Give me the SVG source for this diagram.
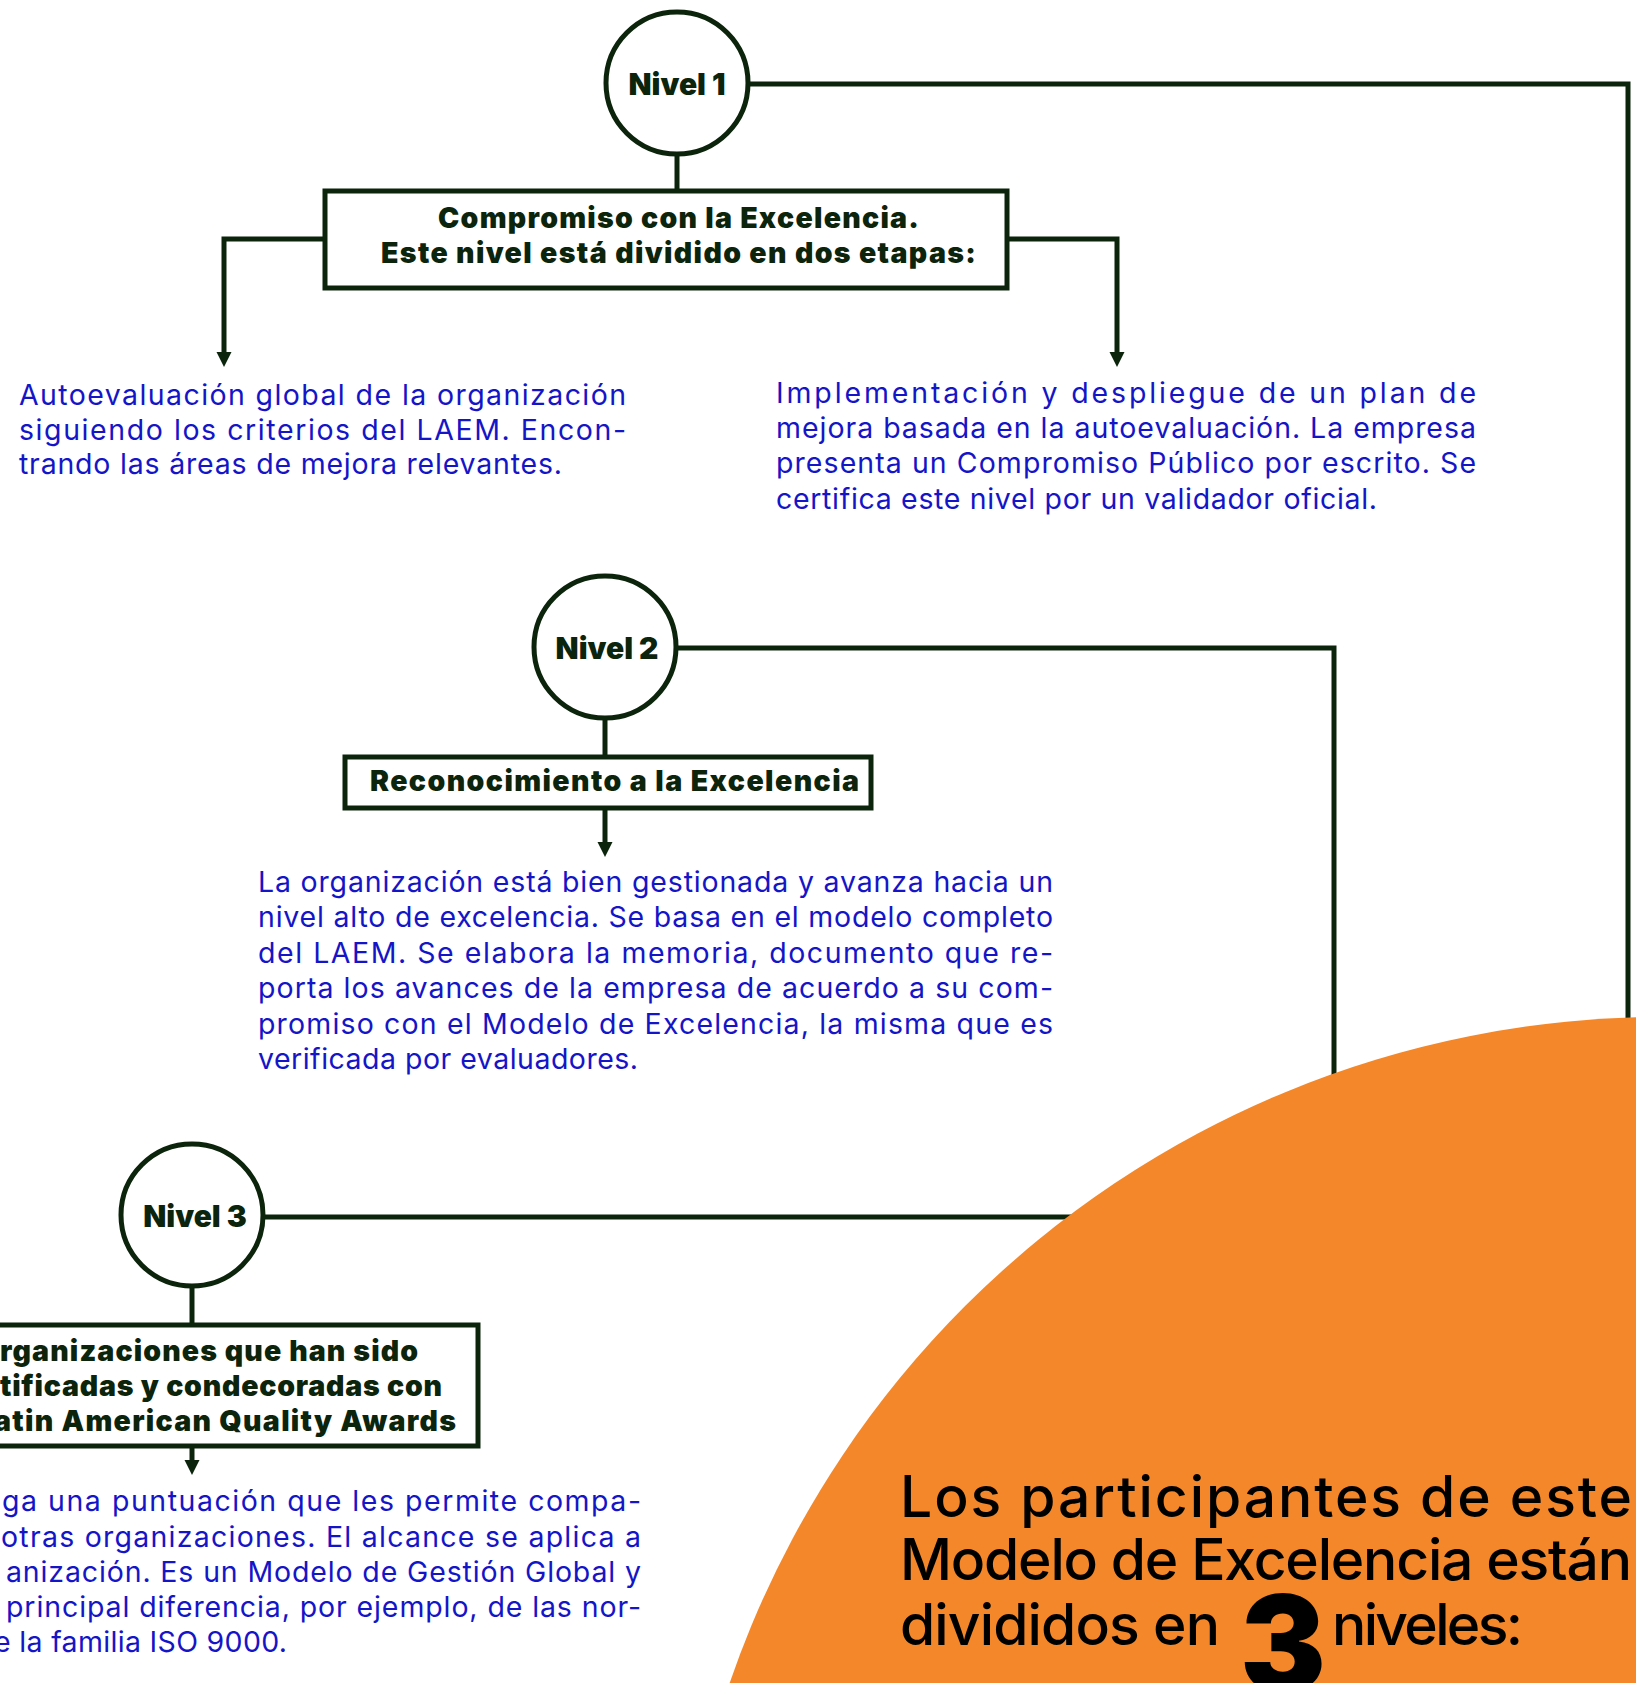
<svg xmlns="http://www.w3.org/2000/svg" width="1636" height="1683" viewBox="0 0 1636 1683">
<style>
.ln{fill:none;stroke:#0b240b;stroke-width:5}
.nd{fill:#fff;stroke:#0b240b;stroke-width:5}
.lvl{font-family:Inter,"Liberation Sans",sans-serif;font-weight:900;font-size:30px;fill:#0b240b;text-anchor:middle}
.bx{font-family:Inter,"Liberation Sans",sans-serif;font-weight:900;font-size:28.5px;fill:#0b240b}
.body{font-family:Inter,"Liberation Sans",sans-serif;font-weight:400;font-size:28.5px;fill:#1515c8}
.big{font-family:Inter,"Liberation Sans",sans-serif;font-weight:500;font-size:57px;fill:#000}
</style>
<defs>
<marker id="ah" viewBox="0 0 10 10" refX="0" refY="5" markerWidth="15" markerHeight="16" markerUnits="userSpaceOnUse" orient="auto">
<path d="M0,0 L10,5 L0,10 z" fill="#0b240b"/>
</marker>
</defs>
<rect x="0" y="0" width="1636" height="1683" fill="#fff"/>
<g id="connectors">
<path class="ln" d="M677,156 V191"/>
<path class="ln" d="M325,239 H224 V352" marker-end="url(#ah)"/>
<path class="ln" d="M1007,239 H1117 V352" marker-end="url(#ah)"/>
<path class="ln" d="M750,84 H1628 V1060"/>
<path class="ln" d="M605,720 V757"/>
<path class="ln" d="M605,808 V842" marker-end="url(#ah)"/>
<path class="ln" d="M678,648 H1334 V1120"/>
<path class="ln" d="M192,1288 V1325"/>
<path class="ln" d="M192,1446 V1460" marker-end="url(#ah)"/>
<path class="ln" d="M265,1217 H1150"/>
</g>
<g id="nivel1">
<circle class="nd" cx="677" cy="83" r="71"/>
<text class="lvl" x="677" y="95">Nivel 1</text>
</g>
<g id="box1">
<rect class="nd" x="325" y="191" width="682" height="97"/>
<text class="bx" x="438" y="228" textLength="481">Compromiso con la Excelencia.</text>
<text class="bx" x="381" y="263" textLength="595">Este nivel está dividido en dos etapas:</text>
</g>
<g id="etapa1">
<text class="body" x="19" y="405" textLength="607">Autoevaluación global de la organización</text>
<text class="body" x="19" y="440" textLength="607">siguiendo los criterios del LAEM. Encon-</text>
<text class="body" x="19" y="474" textLength="543">trando las áreas de mejora relevantes.</text>
</g>
<g id="etapa2">
<text class="body" x="776" y="403" textLength="700">Implementación y despliegue de un plan de</text>
<text class="body" x="776" y="438" textLength="700">mejora basada en la autoevaluación. La empresa</text>
<text class="body" x="776" y="473" textLength="700">presenta un Compromiso Público por escrito. Se</text>
<text class="body" x="776" y="509" textLength="601">certifica este nivel por un validador oficial.</text>
</g>
<g id="nivel2">
<circle class="nd" cx="605" cy="647" r="71"/>
<text class="lvl" x="607" y="659">Nivel 2</text>
</g>
<g id="box2">
<rect class="nd" x="345" y="757" width="526" height="51"/>
<text class="bx" x="370" y="791" textLength="489">Reconocimiento a la Excelencia</text>
</g>
<g id="texto2">
<text class="body" x="258" y="892" textLength="795">La organización está bien gestionada y avanza hacia un</text>
<text class="body" x="258" y="927" textLength="795">nivel alto de excelencia. Se basa en el modelo completo</text>
<text class="body" x="258" y="963" textLength="795">del LAEM. Se elabora la memoria, documento que re-</text>
<text class="body" x="258" y="998" textLength="795">porta los avances de la empresa de acuerdo a su com-</text>
<text class="body" x="258" y="1034" textLength="795">promiso con el Modelo de Excelencia, la misma que es</text>
<text class="body" x="258" y="1069" textLength="380">verificada por evaluadores.</text>
</g>
<g id="nivel3">
<circle class="nd" cx="192" cy="1215" r="71"/>
<text class="lvl" x="195" y="1227">Nivel 3</text>
</g>
<g id="box3">
<rect class="nd" x="-94" y="1325" width="572" height="121"/>
<text class="bx" x="0" y="1361" textLength="418">rganizaciones que han sido</text>
<text class="bx" x="0" y="1396" textLength="442">tificadas y condecoradas con</text>
<text class="bx" x="-6" y="1431" textLength="462">atin American Quality Awards</text>
</g>
<g id="texto3">
<text class="body" x="2" y="1511" textLength="639">ga una puntuación que les permite compa-</text>
<text class="body" x="1" y="1547" textLength="640">otras organizaciones. El alcance se aplica a</text>
<text class="body" x="6" y="1582" textLength="635">anización. Es un Modelo de Gestión Global y</text>
<text class="body" x="6" y="1617" textLength="635">principal diferencia, por ejemplo, de las nor-</text>
<text class="body" x="-6" y="1652" textLength="293">e la familia ISO 9000.</text>
</g>
<g id="resumen">
<circle cx="1663" cy="2004" r="987" fill="#f3872a"/>
<text class="big" x="900" y="1517" textLength="732">Los participantes de este</text>
<text class="big" x="900" y="1580" textLength="732">Modelo de Excelencia están</text>
<text class="big" x="900" y="1645" textLength="320">divididos en</text>
<text x="1240" y="1692" textLength="86" lengthAdjust="spacingAndGlyphs" style="font-family:Inter,'Liberation Sans',sans-serif;font-weight:900;font-size:134px;fill:#000">3</text>
<text class="big" x="1332" y="1645" textLength="191">niveles:</text>
</g>
</svg>
